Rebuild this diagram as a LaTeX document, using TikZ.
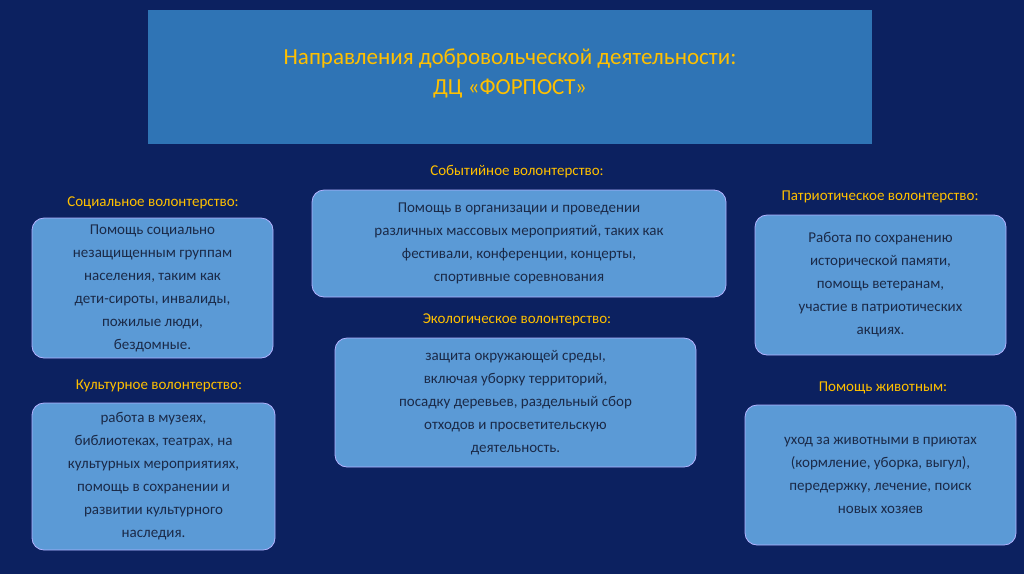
\documentclass[tikz,border=0pt]{standalone}
\usepackage{fontspec}
\setmainfont{Carlito}
\begin{document}
\begin{tikzpicture}[x=1pt,y=-1pt,
  box/.style={draw=white!70!blue,line width=0.8pt,fill=boxc,rounded corners=12pt,align=center,text=txt,font=\fontsize{15}{23}\selectfont,inner sep=0pt},
  lab/.style={text=yel,font=\fontsize{15}{18}\selectfont}]
\definecolor{bg}{HTML}{0C2160}
\definecolor{boxc}{HTML}{5B9AD6}
\definecolor{ttl}{HTML}{2F74B5}
\definecolor{yel}{HTML}{FFC000}
\definecolor{txt}{HTML}{1B2A48}
\fill[bg] (0,0) rectangle (1024,574);
\useasboundingbox (0,0) rectangle (1024,574);
\node[fill=ttl,minimum width=724pt,minimum height=134pt,anchor=north west,inner sep=0pt] (title) at (148,10) {};
\node[text=yel,align=center,font=\fontsize{23}{30}\selectfont] (tt) at (510,73) {Направления добровольческой деятельности:\\ДЦ «ФОРПОСТ»};
\node[lab] (l1) at (153,203) {Социальное волонтерство:};
\node[box,minimum width=241pt,minimum height=140pt] (b1) at (152.5,288) {Помощь социально\\незащищенным группам\\населения, таким как\\дети-сироты, инвалиды,\\пожилые люди,\\бездомные.};
\node[lab] (l2) at (159,386) {Культурное волонтерство:};
\node[box,minimum width=243pt,minimum height=147pt] (b2) at (153.5,476.5) {работа в музеях,\\библиотеках, театрах, на\\культурных мероприятиях,\\помощь в сохранении и\\развитии культурного\\наследия.};
\node[lab] (l3) at (517,172) {Событийное волонтерство:};
\node[box,minimum width=414pt,minimum height=107pt] (b3) at (519,243.5) {Помощь в организации и проведении\\различных массовых мероприятий, таких как\\фестивали, конференции, концерты,\\спортивные соревнования};
\node[lab] (l4) at (517,320) {Экологическое волонтерство:};
\node[box,minimum width=361pt,minimum height=129pt] (b4) at (515.5,402.5) {защита окружающей среды,\\включая уборку территорий,\\посадку деревьев, раздельный сбор\\отходов и просветительскую\\деятельность.};
\node[lab] (l5) at (880,197) {Патриотическое волонтерство:};
\node[box,minimum width=251pt,minimum height=140pt] (b5) at (880.5,285) {Работа по сохранению\\исторической памяти,\\помощь ветеранам,\\участие в патриотических\\акциях.};
\node[lab] (l6) at (883,388) {Помощь животным:};
\node[box,minimum width=271pt,minimum height=140pt] (b6) at (880.5,475) {уход за животными в приютах\\(кормление, уборка, выгул),\\передержку, лечение, поиск\\новых хозяев};
\end{tikzpicture}
\end{document}
